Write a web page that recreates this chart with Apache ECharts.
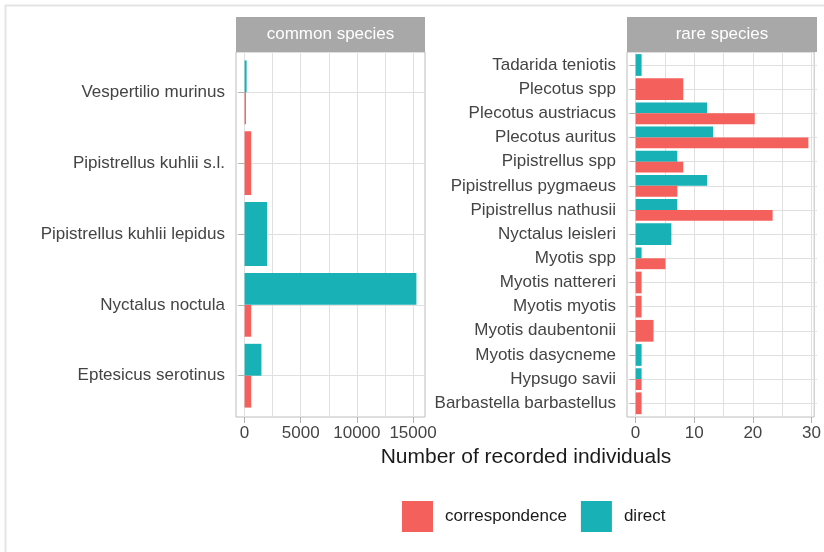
<!DOCTYPE html>
<html lang="en">
<head>
  <meta charset="UTF-8">
  <title>Recorded individuals</title>
  <script src="https://cdn.jsdelivr.net/npm/echarts@6/dist/echarts.min.js"></script>
  <style>
    html, body { margin: 0; padding: 0; background: #fff; }
    #main { width: 824px; height: 552px; }
  </style>
</head>
<body>
  <div id="main"></div>
  <script>
    // common species, listed top to bottom
    var commonSpecies = ['Vespertilio murinus', 'Pipistrellus kuhlii s.l.', 'Pipistrellus kuhlii lepidus', 'Nyctalus noctula', 'Eptesicus serotinus']
    var commonCorrespondence = [120, 590, null, 590, 590]
    var commonDirect = [180, null, 2000, 15300, 1500]

    // rare species, listed top to bottom
    var rareSpecies = ['Tadarida teniotis', 'Plecotus spp', 'Plecotus austriacus', 'Plecotus auritus', 'Pipistrellus spp',
      'Pipistrellus pygmaeus', 'Pipistrellus nathusii', 'Nyctalus leisleri', 'Myotis spp', 'Myotis nattereri',
      'Myotis myotis', 'Myotis daubentonii', 'Myotis dasycneme', 'Hypsugo savii', 'Barbastella barbastellus']
    var rareCorrespondence = [null, 8, 20, 29, 8, 7, 23, null, 5, 1, 1, 3, null, 1, 1]
    var rareDirect = [1, null, 12, 13, 7, 12, 7, 6, 1, null, null, null, 1, 1, null]

    // tick labels and gridlines
    var commonTicks = [0, 5000, 10000, 15000]
    var commonGridLines = [0, 2500, 5000, 7500, 10000, 12500, 15000]
    var rareTicks = [0, 10, 20, 30]
    var rareGridLines = [0, 5, 10, 15, 20, 25, 30]

    var RED = '#F4615C'
    var TEAL = '#18B2B6'
    var FONT = 'Liberation Sans, Arial, sans-serif'
    var FS = 17

    // ggplot dodge: a bar alone in its category takes the whole width
    function splitBars(corr, dir) {
      var out = { corr: [], dir: [], corrSolo: [], dirSolo: [] }
      for (var i = 0; i < corr.length; i++) {
        var both = corr[i] != null && dir[i] != null
        out.corr.push(both ? corr[i] : null)
        out.dir.push(both ? dir[i] : null)
        out.corrSolo.push(!both && corr[i] != null ? corr[i] : null)
        out.dirSolo.push(!both && dir[i] != null ? dir[i] : null)
      }
      return out
    }
    var common = splitBars(commonCorrespondence, commonDirect)
    var rare = splitBars(rareCorrespondence, rareDirect)

    // 5% expansion like ggplot
    function pad(max) { return max * 0.05 }
    var cMax = Math.max.apply(null, commonDirect.concat(commonCorrespondence))
    var rMax = Math.max.apply(null, rareDirect.concat(rareCorrespondence))

    function gridAxisX(grid, min, max, lines) {
      return {
        type: 'value', gridIndex: grid, min: min, max: max, position: 'bottom',
        axisLine: { show: false }, axisLabel: { show: false },
        axisTick: { show: false, customValues: lines },
        splitLine: { show: true, lineStyle: { color: '#e0e0e0', width: 1 } }
      }
    }
    function tickAxisX(grid, min, max, ticks) {
      return {
        type: 'value', gridIndex: grid, min: min, max: max, position: 'bottom',
        axisLine: { show: false },
        axisTick: { show: true, length: 6, customValues: ticks, lineStyle: { color: '#b3b3b3' } },
        axisLabel: {
          customValues: ticks, margin: 8, fontSize: FS, color: '#444', fontFamily: FONT,
          formatter: function (v) { return String(v) }
        },
        splitLine: { show: false }
      }
    }
    function hiddenX(grid, min, max) {
      return { type: 'value', gridIndex: grid, min: min, max: max, show: false }
    }
    function catAxis(grid, cats, visible) {
      return {
        type: 'category', gridIndex: grid, data: cats, boundaryGap: false, inverse: true,
        show: visible,
        axisLine: { show: false },
        axisTick: { show: true, length: 6, lineStyle: { color: '#b3b3b3' } },
        axisLabel: { margin: 11, fontSize: FS, color: '#444', fontFamily: FONT },
        splitLine: { show: true, lineStyle: { color: '#e0e0e0', width: 1 } }
      }
    }
    function bar(name, color, x, y, data, gap) {
      return {
        type: 'bar', name: name, xAxisIndex: x, yAxisIndex: y, data: data,
        itemStyle: { color: color }, barGap: gap, barCategoryGap: '10%', clip: false
      }
    }

    var chart = echarts.init(document.getElementById('main'))
    var option = {
      animation: false,
      textStyle: { fontFamily: FONT },
      grid: [
        { left: 236, top: 52, width: 189, height: 365, show: true, borderColor: '#bcbcbc', borderWidth: 1, backgroundColor: '#fff' },
        { left: 236, top: 92.3, width: 189, height: 283.4 },
        { left: 627, top: 52, width: 190, height: 365, show: true, borderColor: '#bcbcbc', borderWidth: 1, backgroundColor: '#fff' },
        { left: 627, top: 65, width: 190, height: 338.3 }
      ],
      xAxis: [
        gridAxisX(0, -pad(cMax), cMax + pad(cMax), commonGridLines),
        tickAxisX(0, -pad(cMax), cMax + pad(cMax), commonTicks),
        hiddenX(1, -pad(cMax), cMax + pad(cMax)),
        gridAxisX(2, -pad(rMax), rMax + pad(rMax), rareGridLines),
        tickAxisX(2, -pad(rMax), rMax + pad(rMax), rareTicks),
        hiddenX(3, -pad(rMax), rMax + pad(rMax))
      ],
      yAxis: [
        { type: 'value', gridIndex: 0, show: false },
        catAxis(1, commonSpecies, true),
        catAxis(1, commonSpecies, false),
        { type: 'value', gridIndex: 2, show: false },
        catAxis(3, rareSpecies, true),
        catAxis(3, rareSpecies, false)
      ],
      legend: {
        data: ['correspondence', 'direct'],
        left: 402, top: 501, padding: 0,
        itemWidth: 31, itemHeight: 31, itemGap: 14, icon: 'rect',
        selectedMode: false,
        textStyle: { fontSize: FS, color: '#1a1a1a', fontFamily: FONT, padding: [0, 0, 0, 7] }
      },
      series: [
        bar('direct', TEAL, 2, 1, common.dir, '0%'),
        bar('correspondence', RED, 2, 1, common.corr, '0%'),
        bar('correspondence', RED, 2, 2, common.corrSolo, '-100%'),
        bar('direct', TEAL, 2, 2, common.dirSolo, '-100%'),
        bar('direct', TEAL, 5, 4, rare.dir, '0%'),
        bar('correspondence', RED, 5, 4, rare.corr, '0%'),
        bar('correspondence', RED, 5, 5, rare.corrSolo, '-100%'),
        bar('direct', TEAL, 5, 5, rare.dirSolo, '-100%')
      ],
      graphic: [
        // outer frame lines
        { type: 'line', shape: { x1: 5, y1: 5.5, x2: 824, y2: 5.5 }, style: { stroke: '#e4e4e4', lineWidth: 2 } },
        { type: 'line', shape: { x1: 5.5, y1: 5, x2: 5.5, y2: 552 }, style: { stroke: '#e4e4e4', lineWidth: 2 } },
        // facet strips
        { type: 'rect', shape: { x: 236, y: 17, width: 189, height: 35 }, style: { fill: '#a8a8a8' } },
        { type: 'text', x: 330.5, y: 34.5, style: { text: 'common species', fill: '#fff', fontSize: FS, fontFamily: FONT, align: 'center', verticalAlign: 'middle' } },
        { type: 'rect', shape: { x: 627, y: 17, width: 190, height: 35 }, style: { fill: '#a8a8a8' } },
        { type: 'text', x: 722, y: 34.5, style: { text: 'rare species', fill: '#fff', fontSize: FS, fontFamily: FONT, align: 'center', verticalAlign: 'middle' } },
        // shared axis title
        { type: 'text', x: 526, y: 457, style: { text: 'Number of recorded individuals', fill: '#1a1a1a', fontSize: 21, fontFamily: FONT, align: 'center', verticalAlign: 'middle' } }
      ]
    }
    chart.setOption(option)
  </script>
</body>
</html>
